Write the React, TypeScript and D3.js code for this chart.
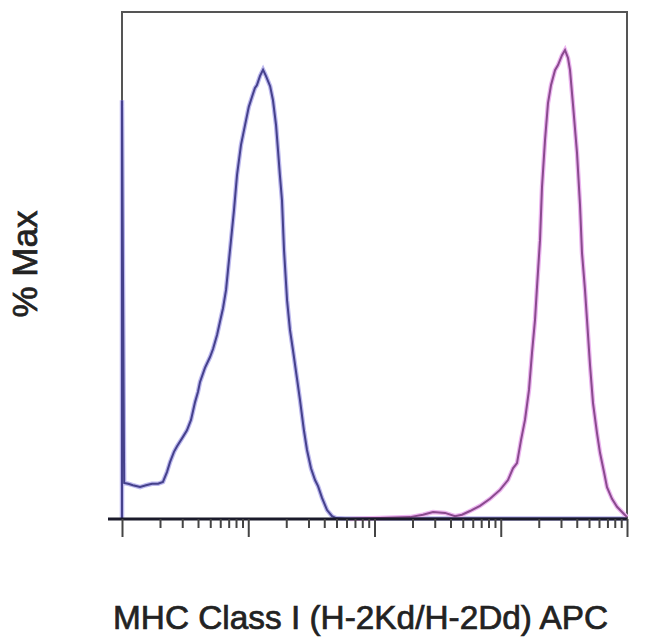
import { useEffect, useRef } from "react";
import * as d3 from "d3";

const WIDTH = 650;
const HEIGHT = 637;
const FRAME = { left: 122, right: 627, top: 12, bottom: 519 };

// x = APC intensity (log, 4 decades), y = % of max
const unstainedX = [
  1, 1, 1.04, 1.12, 1.22, 1.39, 1.55, 1.73, 1.93, 2.11, 2.27, 2.4, 2.58, 2.73,
  3.04, 3.27, 3.52, 3.79, 4.0, 4.15, 4.54, 4.98, 5.26, 5.66, 5.97, 6.31, 6.67,
  6.91, 7.3, 7.71, 8.15, 8.76, 9.43, 10.1, 10.7, 11.3, 11.7, 12.4, 13.1, 13.8,
  14.9, 15.7, 16.6, 17.2, 17.8, 18.5, 19.2, 20.3, 21.4, 22.6, 24.3, 25.7, 27.6,
  29.2, 31.4, 33.8, 35.7, 38.4, 42.1, 46.1, 49.6, 58.4, 110, 330, 1420, 10000,
];
const unstainedY = [
  0, 89.2, 7.7, 7.5, 7.2, 6.8, 7.2, 7.5, 7.5, 7.9, 10.0, 12.1, 14.3, 15.5,
  17.5, 18.9, 21.1, 24.9, 27.1, 29.2, 32.2, 34.5, 36.2, 39.2, 42.0, 44.9,
  48.8, 53.0, 59.4, 65.8, 73.3, 79.7, 83.9, 87.8, 89.9, 91.8, 92.4, 94.4,
  95.7, 94.4, 92.2, 89.2, 83.9, 78.6, 73.3, 67.9, 57.3, 46.6, 40.3, 36.0,
  30.0, 25.3, 18.9, 14.7, 10.8, 8.3, 7.0, 4.5, 1.9, 0.6, 0.2, 0.1, 0.1, 0.1,
  0.1, 0.1,
];

const stainedX = [
  64, 110, 191, 242, 291, 362, 434, 493, 571, 685, 822, 987, 1141, 1250, 1345,
  1447, 1556, 1674, 1768, 1868, 1937, 2046, 2122, 2242, 2367, 2500, 2690,
  2841, 3056, 3228, 3410, 3537, 3736, 4018, 4244, 4401, 4648, 4823, 5093,
  5380, 5786, 6111, 6573, 6943, 7606, 8332, 9129, 10000,
];
const stainedY = [
  0, 0.2, 0.4, 0.9, 1.5, 1.3, 0.6, 0.9, 1.7, 2.8, 4.3, 6.2, 8.3, 10.8, 11.9,
  16.8, 21.1, 27.5, 35.4, 42.4, 49.4, 59.4, 70.7, 80.7, 88.6, 92.4, 95.6,
  96.7, 98.8, 99.9, 98.2, 95.6, 88.2, 78.0, 66.9, 56.7, 48.8, 42.4, 32.8,
  24.7, 18.3, 14.1, 10.0, 6.8, 4.3, 2.6, 1.5, 0.4,
];

const majorTicks = [1, 10, 100, 1000, 10000];

const xLabel = "MHC Class I (H-2Kd/H-2Dd) APC";
const yLabel = "% Max";

export default function App() {
  const axisRef = useRef<SVGGElement>(null);

  const xScale = d3
    .scaleLog()
    .domain([1, 10000])
    .range([FRAME.left, FRAME.right]);
  const yScale = d3
    .scaleLinear()
    .domain([0, 108])
    .range([FRAME.bottom, FRAME.top]);

  const line = d3
    .line<[number, number]>()
    .x((d) => xScale(d[0]))
    .y((d) => yScale(d[1]));

  const unstained = line(unstainedX.map((x, i) => [x, unstainedY[i]]));
  const stained = line(stainedX.map((x, i) => [x, stainedY[i]]));

  // ticks drawn with d3 axes: one for decades, one for the minor ticks
  useEffect(() => {
    const g = d3.select(axisRef.current);
    g.selectAll("*").remove();
    const minor = xScale.ticks().filter((t) => !majorTicks.includes(t));

    const minorAxis = d3
      .axisBottom(xScale)
      .tickValues(minor)
      .tickSize(9)
      .tickSizeOuter(0)
      .tickFormat(() => "");
    const majorAxis = d3
      .axisBottom(xScale)
      .tickValues(majorTicks)
      .tickSize(18)
      .tickSizeOuter(0)
      .tickFormat(() => "");

    [minorAxis, majorAxis].forEach((ax) => {
      const a = g
        .append("g")
        .attr("transform", `translate(0,${FRAME.bottom})`)
        .call(ax);
      a.select(".domain").remove();
      a.selectAll("line").attr("stroke", "#444").attr("stroke-width", 2);
    });
  }, []);

  return (
    <svg
      width={WIDTH}
      height={HEIGHT}
      style={{ position: "absolute", left: 0, top: 0, background: "#fff" }}
    >
      {/* frame */}
      <rect
        x={FRAME.left}
        y={FRAME.top}
        width={FRAME.right - FRAME.left}
        height={FRAME.bottom - FRAME.top}
        fill="none"
        stroke="#555"
        strokeWidth={2}
      />

      {/* histograms: soft halo underneath, darker core on top */}
      <path d={unstained ?? ""} fill="none" stroke="#bdb9ee" strokeWidth={4.5} />
      <path d={stained ?? ""} fill="none" stroke="#ecb6f0" strokeWidth={4.5} />
      <path d={unstained ?? ""} fill="none" stroke="#45418c" strokeWidth={2} />
      <path d={stained ?? ""} fill="none" stroke="#8a4a8e" strokeWidth={2} />

      {/* bottom axis line */}
      <line
        x1={108}
        x2={FRAME.right}
        y1={FRAME.bottom}
        y2={FRAME.bottom}
        stroke="#1a1a2a"
        strokeWidth={3}
      />
      <g ref={axisRef} />

      <text
        transform={`translate(37,264) rotate(-90)`}
        textAnchor="middle"
        fontFamily="Liberation Sans, Arial, sans-serif"
        fontSize={35}
        fill="#222"
        stroke="#222"
        strokeWidth={0.7}
      >
        {yLabel}
      </text>
      <text
        x={113}
        y={629}
        fontFamily="Liberation Sans, Arial, sans-serif"
        fontSize={33}
        textLength={495}
        lengthAdjust="spacingAndGlyphs"
        fill="#222"
        stroke="#222"
        strokeWidth={0.7}
      >
        {xLabel}
      </text>
    </svg>
  );
}
